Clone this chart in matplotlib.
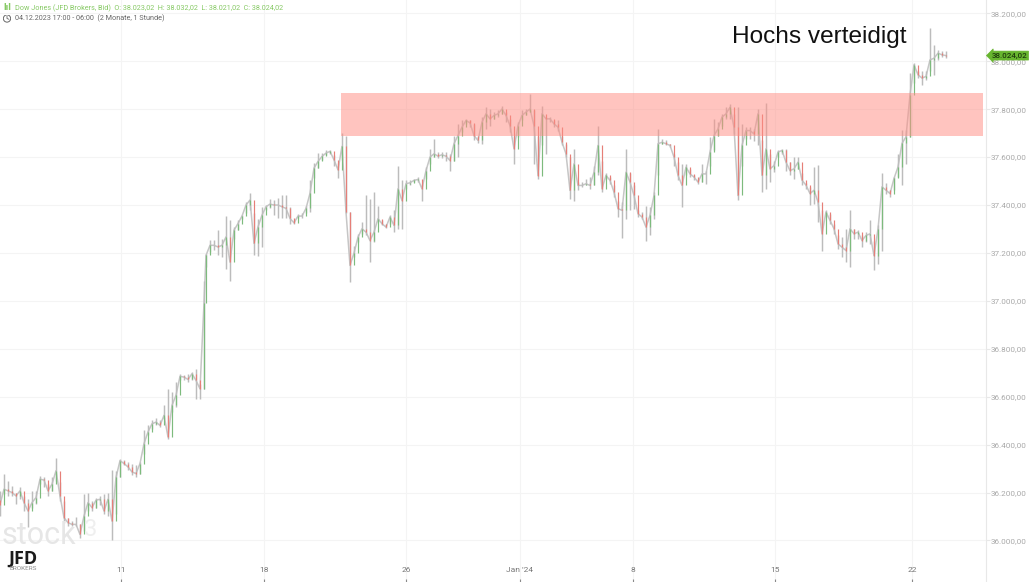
import numpy as np
import matplotlib
matplotlib.use("Agg")
import matplotlib.pyplot as plt

plt.rcParams['font.family'] = ['Roboto', 'DejaVu Sans']

# hourly candles, thinned out by hand from the picture
close_px = [
    36150, 36214, 36207, 36200, 36186, 36207, 36158, 36123, 36158, 36179, 36256, 36252, 36207, 36235,
    36291, 36186, 36095, 36074, 36067, 36067, 36025, 36102, 36158, 36137, 36168, 36172, 36123, 36172,
    36081, 36263, 36333, 36321, 36307, 36286, 36279, 36321, 36404, 36453, 36487, 36494, 36480, 36522,
    36432, 36564, 36606, 36685, 36682, 36672, 36696, 36668, 36633, 36990,
    37190, 37232, 37232, 37225, 37232, 37267, 37162, 37295, 37323, 37354, 37400, 37421, 37240, 37309,
    37358, 37393, 37404, 37400, 37400, 37393, 37386, 37344, 37326, 37354, 37354, 37386, 37449, 37554,
    37582, 37603, 37617, 37624, 37589, 37547, 37645, 37371, 37148, 37200, 37266, 37301, 37287, 37252,
    37287, 37343, 37322, 37308, 37350, 37315, 37468, 37419, 37489, 37493, 37503, 37507, 37468, 37544,
    37600, 37614, 37604, 37610, 37604, 37586, 37656, 37690, 37725, 37753, 37743, 37690, 37670, 37746,
    37781, 37760, 37774, 37781, 37801, 37774, 37732, 37635, 37732, 37774, 37788, 37801, 37732, 37523,
    37781, 37760, 37760, 37739, 37725, 37662, 37614, 37461, 37572, 37482, 37482, 37489, 37482, 37537,
    37649, 37468, 37524, 37503, 37454, 37385, 37378, 37537, 37496, 37440, 37364, 37350, 37308, 37357,
    37440, 37656, 37662, 37656, 37649, 37600, 37524, 37482, 37558, 37530, 37517, 37496, 37530, 37530,
    37621, 37690, 37718, 37767, 37781, 37808, 37725, 37440, 37649, 37711, 37711, 37697, 37781, 37524,
    37635, 37551, 37565, 37621, 37628, 37579, 37544, 37551, 37579, 37504, 37483, 37448, 37462, 37413,
    37280, 37371, 37336, 37301, 37238, 37224, 37210, 37301, 37280, 37287, 37252, 37273, 37280, 37189,
    37300, 37476, 37462, 37448, 37511, 37559, 37657, 37685, 37860, 37985, 37944, 37930, 37937, 38006,
    38013, 38034, 38027, 38024,
]
high_px = [
    36207, 36277, 36249, 36228, 36200, 36221, 36186, 36172, 36207, 36207, 36270, 36266, 36235, 36263,
    36344, 36242, 36165, 36095, 36080, 36098, 36067, 36193, 36200, 36165, 36179, 36185, 36193, 36200,
    36294, 36290, 36340, 36335, 36328, 36321, 36314, 36328, 36460, 36481, 36501, 36512, 36501, 36564,
    36633, 36620, 36662, 36696, 36689, 36696, 36703, 36717, 36654, 37085,
    37197, 37256, 37253, 37295, 37260, 37354, 37337, 37309, 37337, 37358, 37414, 37449, 37365, 37340,
    37390, 37400, 37424, 37421, 37428, 37442, 37442, 37393, 37337, 37361, 37365, 37396, 37505, 37575,
    37617, 37617, 37628, 37631, 37610, 37575, 37700, 37690, 37371, 37230, 37280, 37328, 37440, 37426,
    37454, 37398, 37336, 37322, 37357, 37378, 37565, 37503, 37503, 37503, 37510, 37517, 37489, 37558,
    37635, 37676, 37621, 37621, 37621, 37614, 37690, 37739, 37753, 37760, 37753, 37739, 37690, 37767,
    37808, 37801, 37788, 37795, 37815, 37788, 37760, 37690, 37746, 37795, 37801, 37864, 37795, 37690,
    37815, 37767, 37767, 37753, 37753, 37690, 37656, 37600, 37635, 37496, 37496, 37510, 37517, 37565,
    37732, 37586, 37535, 37517, 37482, 37419, 37413, 37635, 37535, 37482, 37378, 37371, 37398, 37392,
    37454, 37718, 37676, 37670, 37656, 37614, 37579, 37572, 37572, 37551, 37526, 37510, 37572, 37544,
    37683, 37760, 37746, 37781, 37808, 37822, 37781, 37808, 37739, 37725, 37725, 37718, 37802, 37670,
    37827, 37614, 37586, 37628, 37635, 37635, 37579, 37600, 37600, 37532, 37490, 37476, 37560, 37566,
    37378, 37378, 37364, 37322, 37273, 37266, 37301, 37381, 37301, 37294, 37273, 37287, 37339, 37252,
    37315, 37532, 37490, 37462, 37518, 37615, 37713, 37713, 37950, 37992, 37958, 37958, 37958, 38139,
    38069, 38048, 38045, 38045,
]
low_px = [
    36100, 36193, 36186, 36186, 36151, 36172, 36123, 36056, 36137, 36151, 36235, 36221, 36186, 36207,
    36249, 36165, 36074, 36060, 36060, 36060, 36011, 36039, 36123, 36123, 36137, 36150, 36110, 36102,
    36000, 36110, 36263, 36314, 36293, 36272, 36265, 36279, 36362, 36439, 36466, 36480, 36473, 36508,
    36425, 36536, 36557, 36668, 36671, 36660, 36668, 36592, 36592, 36633,
    37141, 37204, 37211, 37190, 37183, 37134, 37085, 37260, 37295, 37340, 37365, 37379, 37190, 37188,
    37225, 37379, 37386, 37358, 37348, 37348, 37344, 37323, 37320, 37344, 37348, 37365, 37372, 37512,
    37554, 37589, 37610, 37614, 37561, 37512, 37589, 37365, 37079, 37185, 37245, 37280, 37273, 37162,
    37245, 37329, 37315, 37304, 37322, 37287, 37301, 37301, 37468, 37485, 37496, 37496, 37419, 37510,
    37572, 37600, 37596, 37596, 37586, 37544, 37586, 37600, 37704, 37739, 37725, 37670, 37660, 37656,
    37718, 37732, 37760, 37767, 37781, 37746, 37704, 37572, 37684, 37753, 37774, 37788, 37572, 37509,
    37649, 37614, 37746, 37725, 37711, 37649, 37600, 37426, 37419, 37461, 37475, 37482, 37468, 37482,
    37524, 37454, 37510, 37489, 37433, 37350, 37262, 37343, 37378, 37385, 37350, 37343, 37252, 37273,
    37343, 37524, 37656, 37649, 37642, 37565, 37503, 37392, 37524, 37517, 37503, 37489, 37496, 37489,
    37565, 37628, 37690, 37732, 37760, 37760, 37697, 37420, 37565, 37676, 37676, 37669, 37649, 37454,
    37468, 37496, 37538, 37600, 37614, 37544, 37524, 37510, 37551, 37483, 37469, 37399, 37406, 37329,
    37210, 37350, 37322, 37280, 37217, 37182, 37161, 37140, 37259, 37259, 37227, 37245, 37238, 37129,
    37154, 37210, 37448, 37434, 37462, 37518, 37483, 37573, 37685, 37909, 37930, 37902, 37923, 37958,
    37944, 38006, 38017, 38013,
]

price_ticks = [36000, 36200, 36400, 36600, 36800, 37000, 37200, 37400, 37600, 37800, 38000, 38200]
price_labels = ['36.000,00', '36.200,00', '36.400,00', '36.600,00', '36.800,00', '37.000,00',
                '37.200,00', '37.400,00', '37.600,00', '37.800,00', '38.000,00', '38.200,00']
date_ticks = [121, 264, 406, 520, 633, 775, 912]
date_labels = ['11', '18', '26', "Jan '24", '8', '15', '22']
zone_low = 37689
zone_high = 37868
last_price = 38024.02

n_first = 52
bar_pos = np.concatenate([np.arange(n_first) * 4, 206 + np.arange(len(close_px) - n_first) * 4])
close_px = np.array(close_px)
open_px = np.concatenate([[close_px[0] + 20], close_px[:-1]])
high_px = np.array(high_px)
low_px = np.array(low_px)

fig = plt.figure(figsize=(10.3, 5.82), dpi=100)
ax = fig.add_axes([0, 0, 985.5 / 1030, 1])
ax.set_xlim(0, 985.5)
ax.set_ylim(35826.5, 38256)

ax.set_yticks(price_ticks)
ax.set_yticklabels(price_labels)
ax.yaxis.tick_right()
ax.set_xticks(date_ticks)
ax.set_xticklabels(date_labels)
ax.tick_params(axis='y', length=3, width=0.8, color='#e8e8e8', labelcolor='#a9a9a9', labelsize=5.9, pad=1)
ax.tick_params(axis='x', direction='in', length=2, width=0.8, color='#8a8a8a', labelcolor='#777777',
               labelsize=6, pad=-11)
ax.grid(True, color='#f4f4f4', linewidth=0.8)
ax.set_axisbelow(True)
for side in ['top', 'left', 'bottom']:
    ax.spines[side].set_visible(False)
ax.spines['right'].set_color('#e8e8e8')

# candles
up = close_px >= open_px
ax.plot(bar_pos, close_px, color='#c6c6c6', linewidth=1.1, zorder=2)
ax.vlines(bar_pos, low_px, high_px, color='#bcbcbc', linewidth=1.05, zorder=3)
ax.vlines(bar_pos[up], open_px[up], close_px[up], color='#7dbb7d', linewidth=0.85, zorder=4)
ax.vlines(bar_pos[~up], close_px[~up], open_px[~up], color='#e67f78', linewidth=0.85, zorder=4)

# resistance zone
ax.fill_between([341, 983], zone_low, zone_high, color='#ff8f85', alpha=0.52, linewidth=0, zorder=5)

ax.annotate('38.024,02', xy=(1.0, last_price), xycoords=('axes fraction', 'data'),
            xytext=(4.2, 0), textcoords='offset points', ha='left', va='center', fontsize=5.8,
            color='#1f3d0c', fontweight='medium', annotation_clip=False,
            bbox=dict(boxstyle='larrow,pad=0.18', fc='#67b52f', ec='#67b52f', lw=0.5), zorder=8)

fig.text(732 / 1030, 1 - 37 / 582, 'Hochs verteidigt', family='Liberation Sans', fontsize=17.6,
         color='#111111', ha='left', va='center')

# header
fig.text(15 / 1030, 1 - 8 / 582,
         'Dow Jones (JFD Brokers, Bid)  O: 38.023,02  H: 38.032,02  L: 38.021,02  C: 38.024,02',
         fontsize=5.25, color='#86c964', ha='left', va='center')
fig.text(15 / 1030, 1 - 18.5 / 582, '04.12.2023 17:00 - 06:00  (2 Monate, 1 Stunde)',
         fontsize=5.25, color='#666666', ha='left', va='center')
fig.text(3.5 / 1030, 1 - 8 / 582, 'lıl', fontsize=5.5, fontweight='bold', color='#86c964', ha='left', va='center',
         family='DejaVu Sans')
clock = fig.add_axes([3 / 1030, 1 - 22.5 / 582, 8 / 1030, 8 / 582])
clock.axis('off')
clock.set_xlim(-1.1, 1.1)
clock.set_ylim(-1.1, 1.1)
clock.add_patch(plt.Circle((0, 0), 1, fill=False, color='#666666', linewidth=0.7))
clock.plot([0, 0, 0.5], [0.6, 0, -0.2], color='#666666', linewidth=0.6)

# watermark and logo
fig.text(2 / 1030, 1 - 536 / 582, 'stock', fontsize=22, color='#e6e6e6', ha='left', va='center')
fig.text(84 / 1030, 1 - 530 / 582, '3', fontsize=17, color='#efefef', ha='left', va='center')
fig.text(8 / 1030, 1 - 558.5 / 582, 'JFD', fontsize=13, fontweight='bold', color='#1b1b1b', ha='left', va='center',
         family='Open Sans')
fig.text(9 / 1030, 1 - 569 / 582, 'BROKERS', fontsize=4.6, color='#8c8c8c', ha='left', va='center')

fig.savefig('out.png', dpi=100)
